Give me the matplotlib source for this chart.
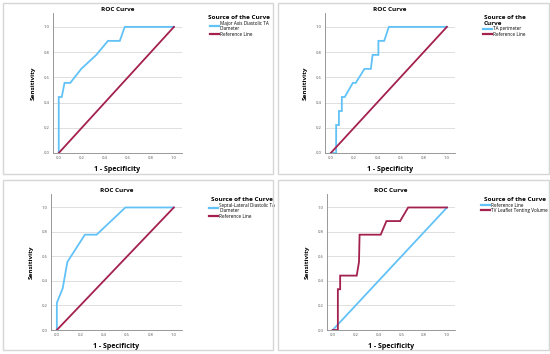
import matplotlib
matplotlib.use("Agg")
import matplotlib.pyplot as plt
from matplotlib.patches import Rectangle

plt.rcParams['font.family'] = ['Open Sans', 'DejaVu Sans']

# ROC curves (1 - specificity, sensitivity)
major_fpr = [0.0, 0.0, 0.026, 0.05, 0.10, 0.195, 0.326, 0.427, 0.53, 0.573, 1.0]
major_tpr = [0.0, 0.444, 0.444, 0.556, 0.556, 0.667, 0.778, 0.889, 0.889, 1.0, 1.0]

perim_fpr = [0.0, 0.046, 0.046, 0.07, 0.07, 0.095, 0.095, 0.12, 0.19, 0.215, 0.29, 0.345, 0.36, 0.41, 0.41, 0.46, 0.5, 1.0]
perim_tpr = [0.0, 0.0, 0.222, 0.222, 0.333, 0.333, 0.444, 0.444, 0.556, 0.556, 0.667, 0.667, 0.778, 0.778, 0.889, 0.889, 1.0, 1.0]

septal_fpr = [0.0, 0.0, 0.05, 0.09, 0.24, 0.34, 0.586, 1.0]
septal_tpr = [0.0, 0.222, 0.34, 0.556, 0.778, 0.778, 1.0, 1.0]

tenting_fpr = [0.0, 0.045, 0.045, 0.065, 0.065, 0.21, 0.23, 0.235, 0.42, 0.47, 0.59, 0.66, 1.0]
tenting_tpr = [0.0, 0.0, 0.333, 0.333, 0.444, 0.444, 0.556, 0.778, 0.778, 0.889, 0.889, 1.0, 1.0]

ref_x = [0.0, 1.0]
ref_y = [0.0, 1.0]

blue = '#62C2F7'
red = '#A3204F'

W, H = 550, 354
fig = plt.figure(figsize=(5.5, 3.54), dpi=100)


def px_axes(left, top, right, bottom):
    return fig.add_axes([left / W, 1 - bottom / H, (right - left) / W, (bottom - top) / H])


def frame(left, top, right, bottom):
    fig.patches.append(Rectangle((left / W, 1 - bottom / H), (right - left) / W, (bottom - top) / H,
                                 transform=fig.transFigure, fill=False, edgecolor='#d6d6d6', lw=1.0))


def panel(box, curves, leg_xy, leg_title):
    ax = px_axes(*box)
    for x, y, c, lab in curves:
        ax.plot(x, y, color=c, lw=1.3, label=lab, solid_joinstyle='miter')
    ax.set_xlim(-0.05, 1.07)
    ax.set_ylim(0, 1.11)
    ax.set_xticks([0, 0.2, 0.4, 0.6, 0.8, 1.0])
    ax.set_yticks([0, 0.2, 0.4, 0.6, 0.8, 1.0])
    ax.set_xticklabels(['0.0', '0.2', '0.4', '0.6', '0.8', '1.0'])
    ax.set_yticklabels(['0.0', '0.2', '0.4', '0.6', '0.8', '1.0'])
    ax.tick_params(labelsize=3.0, length=0, colors='#555555', pad=2.5)
    ax.yaxis.grid(True, color='#d9d9d9', lw=0.6)
    ax.set_axisbelow(True)
    for s in ['top', 'right']:
        ax.spines[s].set_visible(False)
    for s in ['left', 'bottom']:
        ax.spines[s].set_color('#888888')
        ax.spines[s].set_linewidth(0.6)
    ax.set_title('ROC Curve', fontsize=4.6, fontweight='bold', pad=1.5)
    ax.set_xlabel('1 - Specificity', fontsize=5.0, fontweight='bold', labelpad=4)
    ax.set_ylabel('Sensitivity', fontsize=4.6, fontweight='bold', labelpad=6)
    leg = ax.legend(loc='upper left', bbox_to_anchor=(leg_xy[0] / W, 1 - leg_xy[1] / H),
                    bbox_transform=fig.transFigure, frameon=False, fontsize=3.3,
                    title=leg_title, title_fontproperties={'weight': 'bold', 'size': 4.6},
                    handlelength=1.9, handletextpad=0.3, labelspacing=0.05, borderpad=0,
                    alignment='center')
    for h in leg.get_lines():
        h.set_linewidth(1.6)
    return ax


frame(3, 3, 273, 174)
frame(278, 3, 549, 174)
frame(3, 180, 273, 350)
frame(278, 180, 549, 350)

panel((53, 13, 182, 153),
      [(major_fpr, major_tpr, blue, 'Major Axis Diastolic TA\nDiameter'),
       (ref_x, ref_y, red, 'Reference Line')],
      (206, 13), 'Source of the Curve')

panel((325, 13, 455, 153),
      [(perim_fpr, perim_tpr, blue, 'TA perimeter'),
       (ref_x, ref_y, red, 'Reference Line')],
      (481, 13), 'Source of the\nCurve')

panel((51, 194, 182, 330),
      [(septal_fpr, septal_tpr, blue, 'Septal-Lateral Diastolic TA\nDiameter'),
       (ref_x, ref_y, red, 'Reference Line')],
      (207, 195), 'Source of the Curve')

panel((327, 194, 455, 330),
      [(ref_x, ref_y, blue, 'Reference Line'),
       (tenting_fpr, tenting_tpr, red, 'TV Leaflet Tenting Volume')],
      (479, 195), 'Source of the Curve')

fig.savefig('out.png', dpi=100)
